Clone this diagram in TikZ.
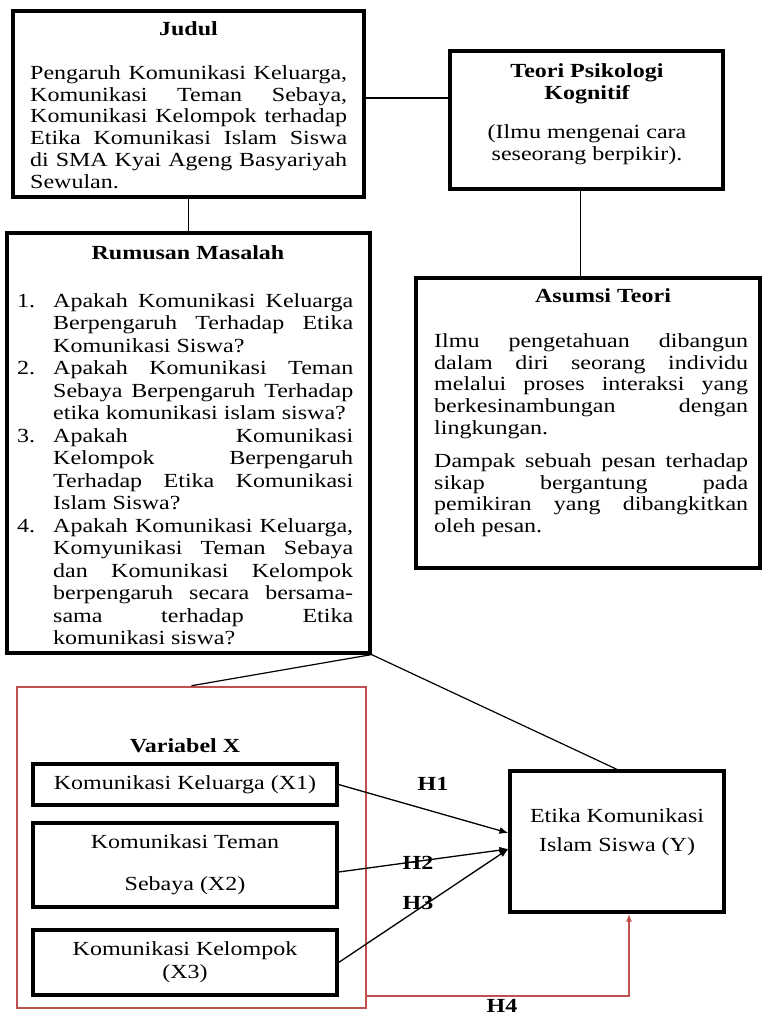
\documentclass[tikz,border=0pt]{standalone}
\usepackage{fontspec}
\setmainfont[FakeStretch=1.2]{Liberation Serif}
\usetikzlibrary{arrows.meta}

\definecolor{redline}{RGB}{192,80,77}
\hyphenpenalty=10000
\exhyphenpenalty=10000
\tolerance=10000
\hbadness=10000
\setlength{\parindent}{0pt}

% numbered line of the problem list
\newcommand\rmitem[2]{\par\noindent\hangindent=36pt\hangafter=1\makebox[36pt][l]{#1}#2\par}

\begin{document}
\begin{tikzpicture}[x=1pt, y=-1pt,
  every node/.style={font=\fontsize{20}{21.7}\selectfont, inner sep=0pt},
  box/.style={draw, line width=3.2pt},
  redbox/.style={draw=redline, line width=2.6pt},
  line/.style={line width=1.2pt},
  arr/.style={line width=1.3pt, -{Latex[length=9pt,width=7pt]}},
  redarr/.style={draw=redline, line width=1.5pt, -{Latex[length=8pt,width=6pt]}},
  title/.style={font=\fontsize{20}{21.7}\selectfont\bfseries, anchor=base},
  body/.style={anchor=north west, text width=#1, align=justify}]
  \useasboundingbox (0,0) rectangle (763,1016);

  % upper boxes
  \node[box, minimum width=351pt, minimum height=186pt] (judul) at (188.5,104) {};
  \node[box, minimum width=273pt, minimum height=138pt] (teori) at (586.5,120) {};
  \node[box, minimum width=344pt, minimum height=290pt] (asumsi) at (588,423) {};
  \node[box, minimum width=363pt, minimum height=420pt] (rumusan) at (188.5,443) {};

  \node[title] (judultitle) at (188.5,36) {Judul};
  \node[body=317pt] (judulbody) at (30,65.5) {Pengaruh Komunikasi Keluarga,\linebreak
    Komunikasi Teman Sebaya,\linebreak Komunikasi Kelompok terhadap\linebreak
    Etika Komunikasi Islam Siswa\linebreak di SMA Kyai Ageng Basyariyah\linebreak Sewulan.};

  \node[title, align=center, anchor=north] (teorititle) at (587,63.5) {Teori Psikologi\\Kognitif};
  \node[align=center, anchor=north] (teoribody) at (587,124.5) {(Ilmu mengenai cara\\seseorang berpikir).};

  \node[title] (asumsititle) at (603,302) {Asumsi Teori};
  \node[body=314pt] (asumsibody) at (434,333.5) {Ilmu pengetahuan dibangun\linebreak
    dalam diri seorang individu\linebreak melalui proses interaksi yang\linebreak
    berkesinambungan dengan\linebreak lingkungan.\par\vspace{11.5pt}
    Dampak sebuah pesan terhadap\linebreak sikap bergantung pada\linebreak
    pemikiran yang dibangkitkan\linebreak oleh pesan.\par};

  \node[title] (rumusantitle) at (188,259) {Rumusan Masalah};
  \node[body=336pt, font=\fontsize{20}{22.5}\selectfont] (rumusanitems) at (17,284.5) {%
    \rmitem{1.}{Apakah Komunikasi Keluarga\linebreak Berpengaruh Terhadap Etika\linebreak
      Komunikasi Siswa?}%
    \rmitem{2.}{Apakah Komunikasi Teman\linebreak Sebaya Berpengaruh Terhadap\linebreak
      etika komunikasi islam siswa?}%
    \rmitem{3.}{Apakah Komunikasi\linebreak Kelompok Berpengaruh\linebreak
      Terhadap Etika Komunikasi\linebreak Islam Siswa?}%
    \rmitem{4.}{Apakah Komunikasi Keluarga,\linebreak Komyunikasi Teman Sebaya\linebreak
      dan Komunikasi Kelompok\linebreak berpengaruh secara bersama-\linebreak
      sama terhadap Etika\linebreak komunikasi siswa?}};

  \draw[line] (judul.east |- 0,98) -- (teori.west |- 0,98);
  \draw[line] (judul.south) -- (rumusan.north);
  \draw[line] ([xshift=-6pt]teori.south) -- ([xshift=-6pt]teori.south |- asumsi.north);

  % variables
  \node[redbox, minimum width=349pt, minimum height=321pt] (varx) at (191.5,847.5) {};
  \node[title] (varxtitle) at (185,752) {Variabel X};
  \node[box, minimum width=304pt, minimum height=41pt] (kx1) at (185,784.5) {Komunikasi Keluarga (X1)};
  \node[box, minimum width=304pt, minimum height=84pt, align=center] (kx2) at (185,865)
    {Komunikasi Teman\\[20.3pt]Sebaya (X2)};
  \node[box, minimum width=304pt, minimum height=65pt, align=center] (kx3) at (185,962.5)
    {Komunikasi Kelompok\\[1.3pt](X3)};

  \node[box, minimum width=214pt, minimum height=141pt] (etika) at (617,841.5) {};
  \node[align=center] (etikatext) at (617,832) {Etika Komunikasi\\[7pt]Islam Siswa (Y)};

  \draw[line] (varx.north) -- (rumusan.south east) -- (etika.north);

  \coordinate (in1) at ([yshift=8.5pt]etika.west);
  \coordinate (in2) at ([yshift=-7.5pt]etika.west);
  \draw[arr] (kx1.east) -- (in1);
  \draw[arr] ([yshift=-7pt]kx2.east) -- (in2);
  \draw[arr] (kx3.east) -- (in2);
  \draw[redarr] (varx.east |- 0,996) -| (629,0 |- etika.south);

  \node[title] (h1) at (433,790) {H1};
  \node[title] (h2) at (418,869) {H2};
  \node[title] (h3) at (418,909) {H3};
  \node[title] (h4) at (502,1012.5) {H4};
\end{tikzpicture}
\end{document}
